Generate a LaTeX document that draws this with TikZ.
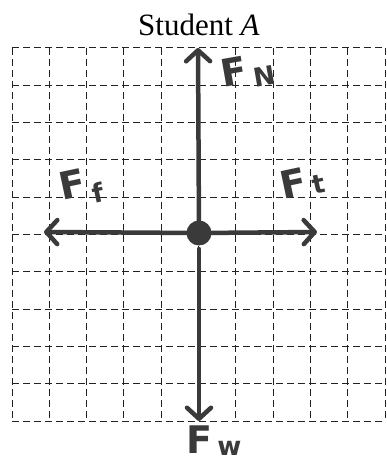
\documentclass[tikz,border=0pt]{standalone}
\usepackage{fontspec}
\setmainfont{Liberation Serif}
\newfontfamily\handfont{DejaVu Sans}
\usetikzlibrary{arrows.meta}
\definecolor{ink}{HTML}{3A3A3A}
\definecolor{gridink}{HTML}{222222}
\tikzset{
  gridline/.style={draw=gridink, line width=1pt, dash pattern=on 7pt off 4pt},
  force/.style={draw=ink, line width=4.5pt, line cap=round,
    -{Straight Barb[length=11pt,width=24pt,line cap=round,line join=round]}},
  dotnode/.style={circle, fill=ink, inner sep=0pt, minimum size=25pt},
  flabel/.style={text=ink, font=\handfont\bfseries\fontsize{38}{38}\selectfont, inner sep=0pt},
  titlenode/.style={font=\fontsize{31}{31}\selectfont, inner sep=0pt, anchor=base}
}
\newcommand{\fsub}[2]{F\kern5pt\raisebox{#1}{\fontsize{26}{26}\selectfont #2}}
\begin{document}
\begin{tikzpicture}[x=1pt,y=-1pt]
\useasboundingbox (0,0) rectangle (387,462);
\fill[white] (0,0) rectangle (387,462);
% grid
\foreach \i in {0,...,10} {
  \draw[gridline] ({12+37.3*\i},48) -- ({12+37.3*\i},421);
  \draw[gridline] (12,{48+37.3*\i}) -- (385,{48+37.3*\i});
}
% title
\node[titlenode] (title) at (199,36) {Student \textit{A}};
% centre and end points
\node[dotnode] (c) at (199,233) {};
\coordinate (top) at (198,48);
\coordinate (below) at (199,249);
\coordinate (bottom) at (199,421);
\coordinate (left) at (44,232);
\coordinate (right) at (317,232);
% forces
\draw[force] (c.center) -- (top);
\draw[force] (below) -- (bottom);
\draw[force] (c.center) -- (left);
\draw[force] (c.center) -- (right);
% labels
\node[flabel, rotate=10] (fn) at (248,72) {\fsub{-0.3ex}{N}};
\node[flabel, rotate=12] (ff) at (81,187) {\fsub{-0.45ex}{f}};
\node[flabel, rotate=12] (ft) at (302,182) {\fsub{-0.1ex}{t}};
\node[flabel] (fw) at (214,441) {\fsub{-0.1ex}{w}};
\end{tikzpicture}
\end{document}
